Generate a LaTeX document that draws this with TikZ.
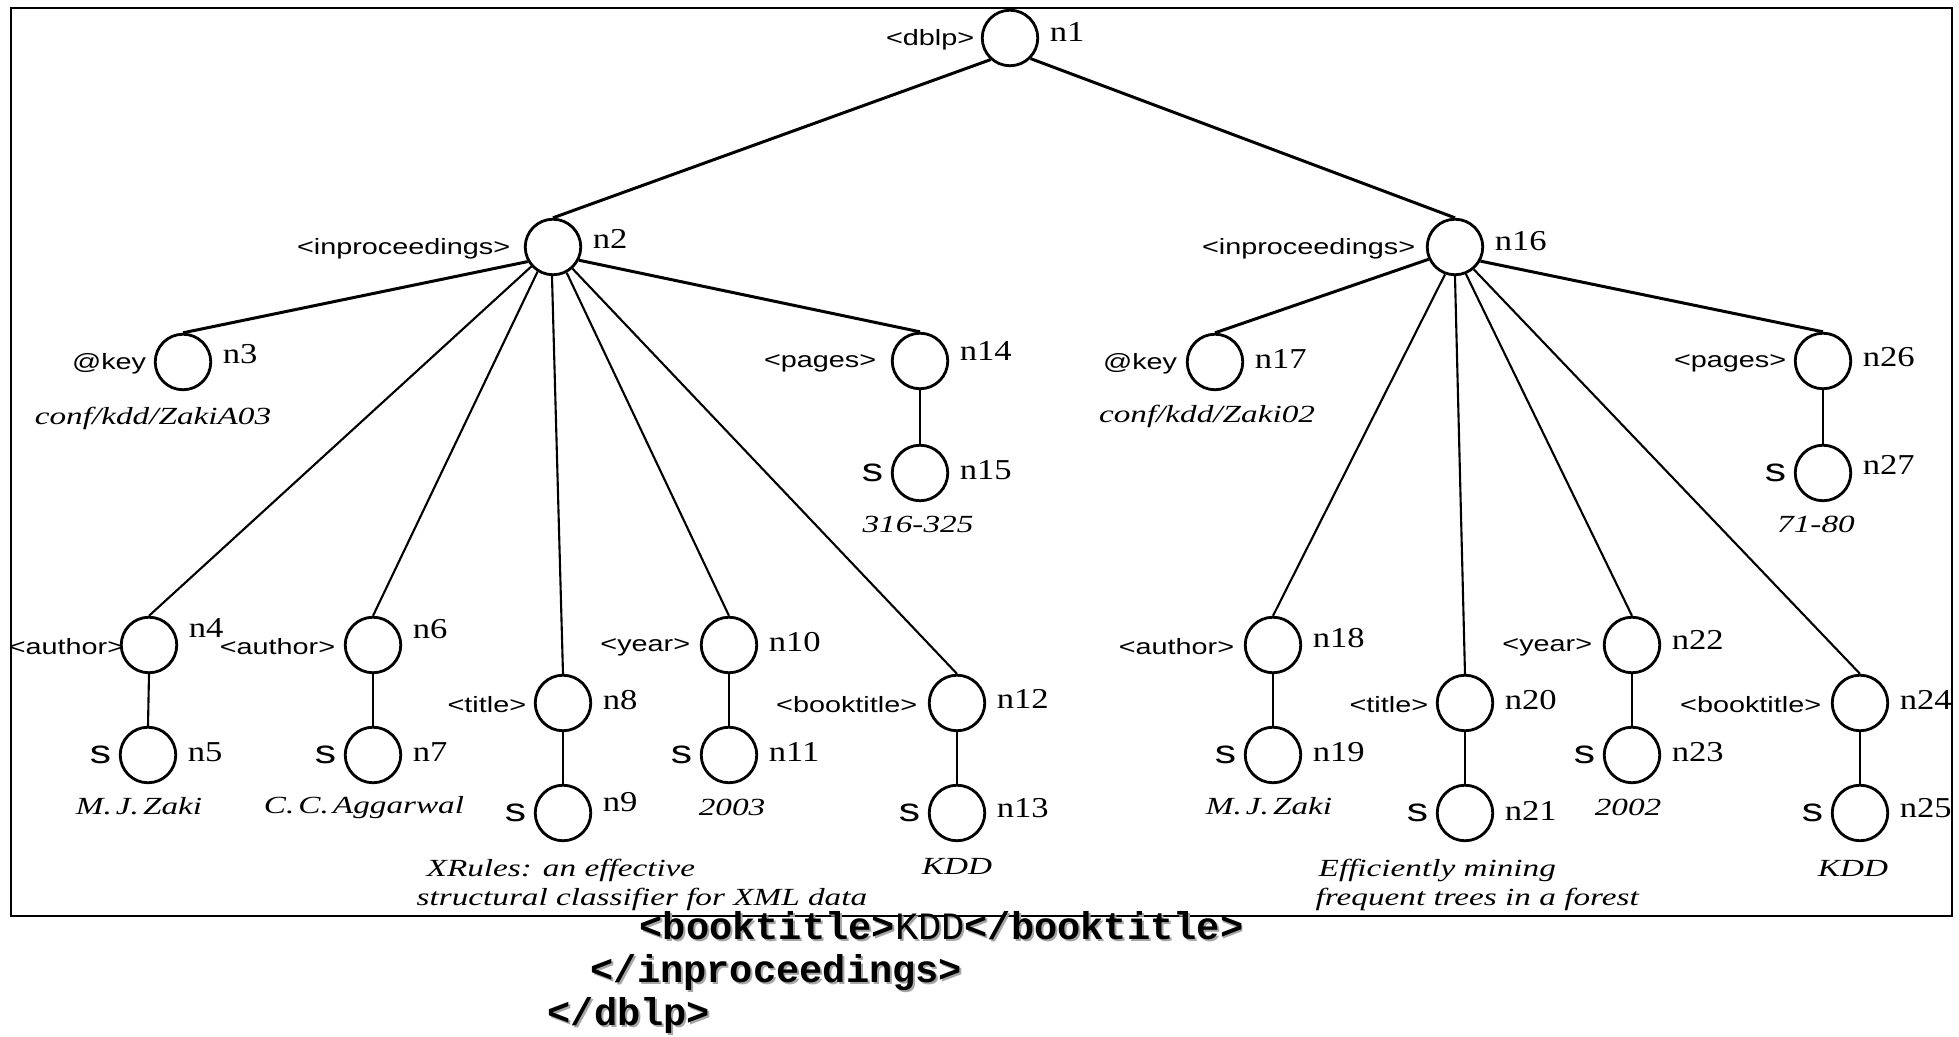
\documentclass[tikz,border=0pt]{standalone}
\usepackage{fontspec}
\newfontfamily\tagfont[FakeStretch=1.3]{Liberation Sans}
\newfontfamily\numfont[FakeStretch=1.2]{Liberation Serif}
\newfontfamily\valfont[FakeStretch=1.35]{Liberation Serif}
\newfontfamily\codefont{Liberation Mono}

% element node: circle, tag name on the left, node id on the right
\newcommand\tagnode[7]{%
  \node[circ] (#1) at (#2,#3) {};
  \node[tagtxt, anchor=east] (#1t) at ([xshift=#6, yshift=-0.02cm]#1.west) {#4};
  \node[numtxt, anchor=west] (#1n) at ([xshift=0.1cm, yshift=#7]#1.east) {#5};
}
% string (leaf) node: circle, "s" on the left, node id on the right
\newcommand\strnode[5]{%
  \node[circ] (#1) at (#2,#3) {};
  \node[stxt, anchor=east] (#1t) at ([xshift=-0.07cm]#1.west) {s};
  \node[numtxt, anchor=west] (#1n) at ([xshift=0.1cm, yshift=#5]#1.east) {#4};
}

\begin{document}
\begin{tikzpicture}[x=0.01cm, y=-0.01cm,
  circ/.style={circle, draw, line width=0.8pt, minimum size=0.555cm, inner sep=0pt},
  tagtxt/.style={font=\tagfont\fontsize{6.3}{7}\selectfont, inner sep=0pt},
  stxt/.style={font=\tagfont\fontsize{9.3}{10}\selectfont, inner sep=0pt},
  numtxt/.style={font=\numfont\fontsize{8.2}{9}\selectfont, inner sep=0pt},
  valtxt/.style={font=\valfont\itshape\fontsize{7}{8.5}\selectfont, inner sep=0pt},
  xmlcode/.style={font=\codefont\fontsize{11}{12}\selectfont, inner sep=0pt, anchor=base west},
  heavy/.style={line width=0.85pt},
  light/.style={line width=0.6pt}]

\fill[white] (0,0) rectangle (1959,1037);
\useasboundingbox (0,0) rectangle (1959,1037);

% frame around the tree
\draw[line width=0.6pt] (11,8) rectangle (1952,916);

% root and the two publications
\tagnode{n1}{1010}{38}{<dblp>}{n1}{-0.06cm}{0.06cm}
\tagnode{n2}{553}{247}{<inproceedings>}{n2}{-0.13cm}{0.08cm}
\tagnode{n16}{1455}{247}{<inproceedings>}{n16}{-0.1cm}{0.06cm}

% first publication
\tagnode{n3}{183}{362}{@key}{n3}{-0.07cm}{0.08cm}
\tagnode{n14}{920}{361}{<pages>}{n14}{-0.14cm}{0.1cm}
\strnode{n15}{920}{473}{n15}{0.03cm}
\tagnode{n4}{149}{645}{<author>}{n4}{0.05cm}{0.17cm}
\strnode{n5}{148}{755}{n5}{0.03cm}
\tagnode{n6}{373}{645}{<author>}{n6}{-0.08cm}{0.16cm}
\strnode{n7}{373}{755}{n7}{0.03cm}
\tagnode{n8}{563}{703}{<title>}{n8}{-0.07cm}{0.03cm}
\strnode{n9}{563}{813}{n9}{0.11cm}
\tagnode{n10}{729}{645}{<year>}{n10}{-0.09cm}{0.03cm}
\strnode{n11}{729}{755}{n11}{0.03cm}
\tagnode{n12}{957}{703}{<booktitle>}{n12}{-0.1cm}{0.04cm}
\strnode{n13}{957}{813}{n13}{0.05cm}

% second publication
\tagnode{n17}{1215}{362}{@key}{n17}{-0.08cm}{0.03cm}
\tagnode{n26}{1823}{361}{<pages>}{n26}{-0.07cm}{0.04cm}
\strnode{n27}{1823}{473}{n27}{0.08cm}
\tagnode{n18}{1273}{645}{<author>}{n18}{-0.09cm}{0.07cm}
\strnode{n19}{1273}{755}{n19}{0.03cm}
\tagnode{n20}{1465}{703}{<title>}{n20}{-0.07cm}{0.03cm}
\strnode{n21}{1465}{813}{n21}{0.02cm}
\tagnode{n22}{1632}{645}{<year>}{n22}{-0.1cm}{0.05cm}
\strnode{n23}{1632}{755}{n23}{0.03cm}
\tagnode{n24}{1860}{703}{<booktitle>}{n24}{-0.09cm}{0.03cm}
\strnode{n25}{1860}{813}{n25}{0.05cm}

% tree edges
\draw[heavy] (n1.228) -- (n2.north);
\draw[heavy] (n1.315) -- (n16.north);
\draw[heavy] (n2.210) -- (n3.north);
\draw[light] (n2.222) -- (n4.north);
\draw[light] (n2.238) -- (n6.north);
\draw[light] (n2.268) -- (n8.north);
\draw[light] (n2.298) -- (n10.north);
\draw[light] (n2.312) -- (n12.north);
\draw[heavy] (n2.333) -- (n14.north);
\draw[heavy] (n16.205) -- (n17.north);
\draw[light] (n16.250) -- (n18.north);
\draw[light] (n16.270) -- (n20.north);
\draw[light] (n16.292) -- (n22.north);
\draw[light] (n16.310) -- (n24.north);
\draw[heavy] (n16.331) -- (n26.north);
\foreach \a/\b in {n14/n15, n26/n27, n4/n5, n6/n7, n8/n9, n10/n11,
                   n12/n13, n18/n19, n20/n21, n22/n23, n24/n25}
  \draw[light] (\a.south) -- (\b.north);

% values of the leaves
\node[valtxt, anchor=base] (v3) at (153,425) {conf/kdd/ZakiA03};
\node[valtxt, anchor=base] (v15) at (918,533) {316-325};
\node[valtxt, anchor=base] (v17) at (1207,423) {conf/kdd/Zaki02};
\node[valtxt, anchor=base] (v27) at (1816,533) {71-80};
\node[valtxt, anchor=base] (v5) at (139,815) {M.\,J.\,Zaki};
\node[valtxt, anchor=base] (v7) at (364,814) {C.\,C.\,Aggarwal};
\node[valtxt, anchor=base] (v11) at (732,816) {2003};
\node[valtxt, anchor=base] (v13) at (957,875) {KDD};
\node[valtxt, anchor=base west] (v9a) at (426,877) {XRules: an effective};
\node[valtxt, anchor=base west] (v9b) at (416,906) {structural classifier for XML data};
\node[valtxt, anchor=base] (v19) at (1269,815) {M.\,J.\,Zaki};
\node[valtxt, anchor=base] (v23) at (1628,816) {2002};
\node[valtxt, anchor=base] (v25) at (1853,877) {KDD};
\node[valtxt, anchor=base west] (v21a) at (1318,877) {Efficiently mining};
\node[valtxt, anchor=base west] (v21b) at (1315,906) {frequent trees in a forest};

% closing XML lines below the frame, with a soft shadow
\node[xmlcode, text=black!35] (c1s) at (641,942) {\textbf{<booktitle>}KDD\textbf{</booktitle>}};
\node[xmlcode, text=black!35] (c2s) at (592,985) {\textbf{</inproceedings>}};
\node[xmlcode, text=black!35] (c3s) at (549,1028) {\textbf{</dblp>}};
\node[xmlcode] (c1) at (639,940) {\textbf{<booktitle>}KDD\textbf{</booktitle>}};
\node[xmlcode] (c2) at (590,983) {\textbf{</inproceedings>}};
\node[xmlcode] (c3) at (547,1026) {\textbf{</dblp>}};
\end{tikzpicture}
\end{document}
